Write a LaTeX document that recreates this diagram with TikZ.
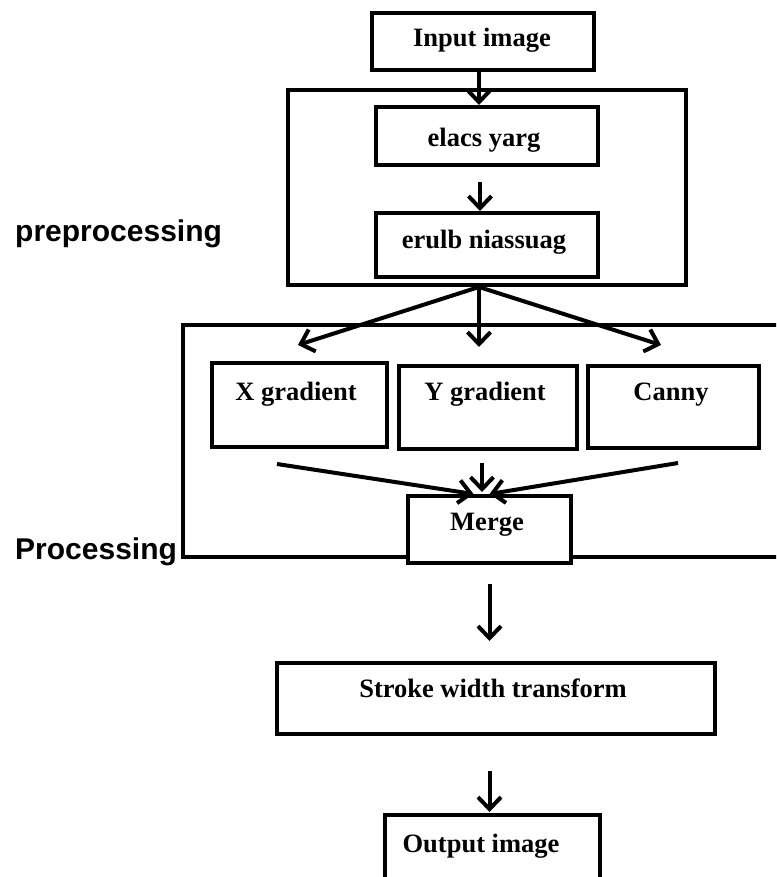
\documentclass[tikz,border=0pt]{standalone}
\usepackage{fontspec}
\setmainfont{Liberation Serif}
\newfontfamily\labfont{Liberation Sans}
\usetikzlibrary{arrows.meta}
\tikzset{
  box/.style={draw, line width=4pt, rectangle, inner sep=0pt, fill=white},
  boxtext/.style={anchor=base, inner sep=0pt, font=\fontsize{26.5}{30}\selectfont\bfseries},
  sidelabel/.style={anchor=base west, inner sep=0pt, font=\labfont\fontsize{30}{33}\selectfont\bfseries},
  arr/.style={line width=4pt, -{Straight Barb[length=12pt,width=23pt]}}
}
\begin{document}
\begin{tikzpicture}[x=1pt,y=-1pt]
\useasboundingbox (0,0) rectangle (776,877);
\clip (0,0) rectangle (776,877);
% boxes
\node[box, minimum width=222pt, minimum height=57pt] (inp) at (483,41.5) {};
\node[box, fill=none, minimum width=398pt, minimum height=195pt] (pre) at (487,187.5) {};
\node[box, minimum width=222pt, minimum height=58pt] (gray) at (487,136) {};
\node[box, minimum width=222pt, minimum height=64pt] (gauss) at (487,245) {};
\node[box, fill=none, minimum width=637pt, minimum height=232pt] (proc) at (501.5,441) {};
\node[box, minimum width=175pt, minimum height=84pt] (xg) at (299.5,405) {};
\node[box, minimum width=178pt, minimum height=83pt] (yg) at (488,407.5) {};
\node[box, minimum width=171pt, minimum height=82pt] (cn) at (673.5,407) {};
\node[box, minimum width=163pt, minimum height=67pt] (merge) at (489.5,529.5) {};
\node[box, minimum width=438pt, minimum height=71pt] (swt) at (496,698.5) {};
\node[box, minimum width=215pt, minimum height=115pt] (out) at (492.5,872.5) {};
% texts
\node[boxtext] (tinp) at (482,47) {Input image};
\node[boxtext] (tgray) at (484,147) {elacs yarg};
\node[boxtext] (tgauss) at (484,248) {erulb niassuag};
\node[boxtext] (txg) at (296,400) {X gradient};
\node[boxtext] (tyg) at (485,400) {Y gradient};
\node[boxtext] (tcn) at (671,400) {Canny};
\node[boxtext] (tmerge) at (487,530) {Merge};
\node[boxtext] (tswt) at (493,697) {Stroke width transform};
\node[boxtext] (tout) at (481,852) {Output image};
\node[sidelabel] (lpre) at (15,241) {preprocessing};
\node[sidelabel] (lproc) at (15,559) {Processing};
% free ends
\coordinate (t1) at (298,345);
\coordinate (t2) at (479,347);
\coordinate (t3) at (661,345);
\coordinate (s1) at (277,464);
\coordinate (s2) at (482,463);
\coordinate (s3) at (678,463);
% connectors
\draw[arr] ([xshift=-4pt]inp.south) -- ([xshift=-8pt]gray.north);
\draw[arr, shorten <=15pt] ([xshift=-7pt]gray.south) -- ([xshift=-7pt]gauss.north);
\draw[arr] ([xshift=-8pt]pre.south) -- (t1);
\draw[arr] ([xshift=-8pt]pre.south) -- (t2);
\draw[arr] ([xshift=-8pt]pre.south) -- (t3);
\draw[arr] (s1) -- ([xshift=-16pt]merge.north);
\draw[arr, shorten >=2pt] (s2) -- (s2 |- merge.north);
\draw[arr] (s3) -- (merge.north);
\draw[arr, shorten <=19pt, shorten >=20pt] (merge.south) -- (merge.south |- swt.north);
\draw[arr, shorten <=35pt, shorten >=1pt] (swt.south -| merge.south) -- (out.north -| merge.south);
\end{tikzpicture}
\end{document}
